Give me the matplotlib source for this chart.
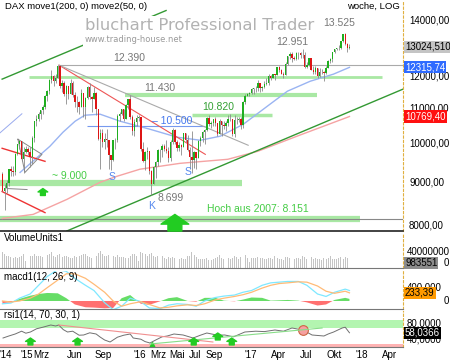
import numpy as np
import pandas as pd
import matplotlib
matplotlib.use('Agg')
import matplotlib.pyplot as plt
import matplotlib.dates as mdates
import matplotlib.transforms as mtrans
from matplotlib.ticker import NullLocator

plt.rcParams['font.family'] = ['Liberation Sans', 'DejaVu Sans']

#weekly DAX candles, one entry per week starting Mon 2014-10-06
first_open = 9195
close = [
    8788, 8850, 8988, 9326, 9291, 9252, 9732, 9980, 10087, 9594, 9787, 9865, 9764,
    9648, 10167, 10649, 10694, 10846, 10963, 11050, 11402, 11551, 11901, 12039, 11868, 11967,
    12375, 11689, 11811, 11454, 11709, 11447, 11815, 11413, 11197, 11197, 11041, 11492, 11058,
    11316, 11673, 11347, 11308, 11490, 10985, 10124, 10298, 10038, 10123, 10110, 9688, 9553,
    10096, 10104, 10795, 10850, 10988, 10708, 11119, 11293, 10752, 10340, 10608, 10728, 10743,
    9849, 9545, 9764, 9798, 9286, 8967, 9388, 9513, 9824, 9831, 9950, 9851, 9794,
    9622, 10051, 10373, 10039, 9870, 9952, 9916, 10287, 10103, 9834, 9631, 9557, 9776,
    9629, 10066, 10147, 10337, 10367, 10713, 10544, 10588, 10684, 10573, 10276, 10627, 10511,
    10490, 10580, 10711, 10696, 10259, 10668, 10664, 10700, 10513, 11203, 11404, 11450, 11481,
    11599, 11629, 11630, 11814, 11651, 11666, 11757, 11804, 12027, 11963, 12095, 12064, 12313,
    12225, 12109, 12049, 12438, 12717, 12770, 12638, 12602, 12823, 12816, 12753, 12733, 12325,
    12389, 12631, 12240, 12163, 12297, 12014, 12165, 12168, 12142, 12304, 12519, 12592, 12829,
    12956, 12992, 12991, 13217, 13479, 13127, 12994, 13024.51]
high = [
    9250, 8950, 9050, 9340, 9400, 9400, 9750, 10000, 10093, 10060, 9900, 9925, 9900,
    9900, 10200, 10650, 10810, 10900, 10970, 11100, 11420, 11570, 11920, 12220, 12050, 12080,
    12390, 12390, 11900, 11850, 11750, 11700, 11920, 11850, 11500, 11400, 11250, 11600, 11250,
    11350, 11700, 11800, 11400, 11670, 11500, 11000, 10400, 10400, 10300, 10400, 10100, 9700,
    10100, 10150, 10850, 10900, 11000, 10950, 11150, 11300, 11430, 10800, 10700, 10800, 10800,
    10500, 10050, 9800, 9900, 9800, 9300, 9400, 9550, 9850, 9850, 10000, 10000, 10100,
    9900, 10100, 10430, 10400, 10100, 10050, 10000, 10300, 10300, 10250, 9900, 10350, 9800,
    9750, 10100, 10200, 10350, 10400, 10750, 10800, 10650, 10700, 10750, 10500, 10700, 10600,
    10650, 10650, 10800, 10830, 10700, 10800, 10750, 10750, 10750, 11250, 11450, 11480, 11500,
    11650, 11650, 11700, 11890, 11800, 11700, 11850, 11950, 12100, 12050, 12100, 12100, 12320,
    12350, 12250, 12150, 12480, 12720, 12840, 12850, 12700, 12830, 12830, 12850, 12951, 12850,
    12500, 12650, 12650, 12350, 12350, 12300, 12300, 12250, 12200, 12350, 12550, 12630, 12830,
    12960, 13000, 13090, 13240, 13480, 13525, 13150, 13110]
low = [
    8780, 8355, 8750, 8900, 9150, 9150, 9180, 9700, 9850, 9550, 9219, 9740, 9700,
    9380, 9450, 10050, 10500, 10650, 10700, 10850, 11000, 11250, 11450, 11800, 11700, 11800,
    11950, 11650, 11500, 11380, 11150, 11300, 11450, 11350, 11050, 10900, 10850, 11100, 10750,
    10700, 11300, 11300, 10900, 11300, 10800, 10100, 9338, 9900, 9850, 9900, 9325, 9300,
    9550, 9850, 10050, 10650, 10800, 10650, 10700, 11000, 10700, 10250, 10200, 10500, 10650,
    9800, 9500, 9300, 9600, 9200, 8699, 9050, 9100, 9400, 9500, 9650, 9800, 9750,
    9500, 9550, 10000, 10000, 9800, 9800, 9700, 9900, 10050, 9800, 9330, 9226, 9350,
    9320, 9700, 9950, 10050, 10000, 10350, 10500, 10450, 10500, 10500, 10200, 10300, 10200,
    10400, 10350, 10500, 10650, 10200, 10174, 10550, 10600, 10400, 10450, 11150, 11400, 11400,
    11450, 11450, 11500, 11550, 11500, 11550, 11650, 11750, 11750, 11900, 11950, 11900, 12050,
    12150, 12100, 11950, 12350, 12400, 12600, 12500, 12550, 12550, 12600, 12650, 12650, 12300,
    12300, 12350, 12220, 12100, 12100, 11950, 12000, 12100, 11868, 12100, 12350, 12450, 12500,
    12800, 12900, 12900, 12950, 13200, 13100, 12850, 12950]
#weekly volume in millions
volume = [
    38, 34, 30, 28, 26, 24, 27, 25, 27, 30, 33, 16, 18,
    28, 30, 34, 30, 29, 28, 27, 30, 32, 33, 38, 29, 27,
    31, 33, 27, 28, 30, 27, 25, 24, 30, 27, 29, 32, 34,
    34, 30, 27, 25, 28, 30, 36, 42, 33, 30, 29, 32, 30,
    29, 27, 31, 26, 27, 26, 25, 24, 30, 33, 35, 28, 16,
    38, 36, 35, 30, 33, 36, 29, 27, 28, 27, 30, 24, 22,
    26, 25, 27, 24, 25, 22, 24, 21, 23, 28, 30, 40, 32,
    26, 22, 21, 23, 22, 24, 20, 19, 22, 24, 27, 31, 25,
    23, 22, 24, 21, 24, 30, 26, 23, 26, 30, 32, 25, 15,
    24, 25, 24, 26, 25, 24, 23, 22, 25, 24, 23, 29, 25,
    22, 21, 20, 26, 27, 25, 26, 22, 24, 25, 23, 30, 26,
    23, 22, 27, 23, 24, 22, 21, 20, 24, 22, 25, 28, 23,
    22, 21, 24, 26, 23, 26, 25, 0.983551]

#moving averages
ma50_dates = ['2014-12-03', '2015-01-21', '2015-03-11', '2015-04-23', '2015-06-02', '2015-07-04',
              '2015-08-23', '2015-10-28', '2016-02-03', '2016-05-03', '2016-07-18', '2016-09-21',
              '2016-12-06', '2017-02-23', '2017-04-30', '2017-07-14', '2017-09-28', '2017-11-20']
ma50 = [9245, 9580, 9929, 10317, 10632, 10808, 10838, 10632, 10402, 10177, 10094, 10206,
        10545, 11077, 11540, 11858, 12088, 12315.74]
ma200_dates = ['2014-10-06', '2015-01-15', '2015-05-06', '2015-08-23', '2015-10-18', '2016-01-01',
               '2016-05-12', '2016-10-16', '2017-01-23', '2017-06-10', '2017-11-20']
ma200 = [8155, 8245, 8590, 9000, 9150, 9327, 9478, 9583, 9796, 10237, 10769.40]

#drawn trend lines (dates, values)
green_channel = (['2014-10-05', '2016-03-27'], [11926, 14381])
green_support = (['2015-05-06', '2018-05-15'], [7881, 11605])
red_trend = (['2015-04-10', '2016-08-03'], [12390, 9713])
gray_trend = (['2015-04-10', '2016-12-22'], [12390, 9957])
red_wedge_top = (['2014-10-05', '2015-02-23'], [9875, 9530])
red_wedge_bot = (['2014-10-05', '2015-02-23'], [8775, 8285])
gray_triangle = (['2014-11-26', '2015-02-13', '2014-12-19'], [10122, 9713, 9245])
gray_flat = (['2014-10-21', '2014-12-26'], [8848, 8824])
blue_trend = (['2014-09-28', '2014-12-09'], [10300, 10850])

#horizontal levels: value, start, end
level_12390 = (12390, '2015-04-10', '2018-05-15')
level_12000 = (12000, '2015-01-01', '2018-03-08')
level_11430 = (11430, '2015-11-13', '2017-08-06')
level_10820 = (10820, '2016-06-20', '2017-03-11')
level_10500 = (10500, '2015-07-11', '2016-08-03')
level_9000 = (8975, '2014-09-28', '2016-12-02')
level_8151 = (8151, '2014-09-28', '2017-12-25')

#MACD panel
macd_dates = ['2014-10-06', '2014-11-03', '2014-12-01', '2015-01-05', '2015-02-02', '2015-03-02',
              '2015-04-06', '2015-05-04', '2015-06-01', '2015-07-06', '2015-08-03', '2015-09-07',
              '2015-10-05', '2015-11-02', '2015-11-30', '2016-01-04', '2016-02-01', '2016-03-07',
              '2016-04-04', '2016-05-02', '2016-06-06', '2016-07-04', '2016-08-01', '2016-09-05',
              '2016-10-03', '2016-11-07', '2016-12-05', '2017-01-02', '2017-02-06', '2017-03-06',
              '2017-04-03', '2017-05-01', '2017-06-05', '2017-07-03', '2017-08-07', '2017-09-04',
              '2017-10-02', '2017-11-06', '2017-11-20']
macd_line = [-80, -60, 80, 200, 450, 700, 900, 850, 650, 450, 300, -50, -250, -150, 80, -20,
             -200, -220, -120, -80, -100, -150, 0, 100, 140, 170, 250, 300, 450, 520, 540, 560,
             560, 450, 200, 130, 250, 340, 300]
macd_signal = [0, -30, 0, 80, 200, 380, 600, 780, 780, 650, 480, 250, 0, -150, -80, -20, -100,
               -200, -180, -140, -110, -130, -80, 30, 80, 130, 180, 250, 370, 450, 500, 520, 550,
               540, 430, 280, 220, 280, 233.39]
macd_hist = [-60, -40, 60, 150, 200, 230, 220, 80, -100, -180, -190, -210, -200, 80, 170, -80,
             -110, -10, 80, 110, 0, -20, 90, 90, 10, -10, 40, 100, 90, 10, 20, 30, 10, -40, -130,
             -100, 30, 90, 60]

#RSI panel
rsi_dates = ['2014-10-08', '2014-10-27', '2014-11-17', '2014-12-08', '2014-12-22', '2015-01-06',
             '2015-01-26', '2015-02-16', '2015-03-14', '2015-03-30', '2015-04-09', '2015-04-24',
             '2015-05-08', '2015-05-25', '2015-06-15', '2015-06-30', '2015-07-20', '2015-08-10',
             '2015-08-23', '2015-09-07', '2015-09-25', '2015-10-19', '2015-11-09', '2015-11-30',
             '2015-12-10', '2016-01-04', '2016-01-18', '2016-02-03', '2016-02-22', '2016-03-14',
             '2016-03-31', '2016-04-22', '2016-05-22', '2016-06-24', '2016-07-18', '2016-08-08',
             '2016-09-12', '2016-10-06', '2016-11-04', '2016-12-11', '2017-01-16', '2017-02-13',
             '2017-03-20', '2017-04-17', '2017-05-15', '2017-06-20', '2017-07-20', '2017-08-28',
             '2017-09-11', '2017-09-29', '2017-10-27', '2017-11-06', '2017-11-20']
rsi = [45, 50, 55, 62, 57, 60, 68, 72, 77.5, 75, 77.5, 66, 60, 62, 52, 52.5, 58, 55, 47.5, 40,
       35, 47, 52, 55, 45, 42, 36, 32.5, 40, 48, 50, 55, 52.5, 45, 52, 57.5, 52, 52.5, 48, 60,
       62, 61, 65, 62, 70, 65, 52.5, 50, 55, 60, 70, 72, 58.0366]
rsi_red_trend = (['2015-04-09', '2016-08-28'], [77.5, 35])
rsi_green_trend = (['2016-02-03', '2017-08-22'], [30, 70])
rsi_arrow_dates = ['2015-01-06', '2015-06-10', '2016-06-26', '2016-09-13', '2016-10-29']
rsi_arrow_vals = [45, 45, 45, 57.5, 45]

tick_dates = ['2014-10-18', '2014-12-25', '2015-02-12', '2015-06-01', '2015-09-01', '2016-01-01',
              '2016-03-01', '2016-05-01', '2016-07-01', '2016-09-01', '2017-01-01', '2017-04-01',
              '2017-07-01', '2017-10-01', '2018-01-01', '2018-04-01']
tick_labels = ["'14", "'15", 'Mrz', 'Jun', 'Sep', "'16", 'Mrz', 'Mai', 'Jul', 'Sep', "'17", 'Apr',
               'Jul', 'Okt', "'18", 'Apr']


def dn(d):
    return mdates.date2num(pd.to_datetime(d))


weeks = pd.date_range('2014-10-06', periods=len(close), freq='W-MON')
xw = mdates.date2num(weeks)
opens = [first_open] + close[:-1]

W, H = 450, 360
fig = plt.figure(figsize=(4.5, 3.6), dpi=100)
ax = fig.add_axes([0, 1 - 231 / H, 403 / W, 231 / H])
vax = fig.add_axes([0, 1 - 268 / H, 403 / W, 35 / H], sharex=ax)
mx = fig.add_axes([0, 1 - 309 / H, 403 / W, 38 / H], sharex=ax)
rx = fig.add_axes([0, 1 - 347 / H, 403 / W, 36 / H], sharex=ax)

for a in [ax, vax, mx, rx]:
    for s in ['top', 'left']:
        a.spines[s].set_visible(False)
    a.spines['right'].set_color('#e0b040')
    a.spines['right'].set_linestyle((0, (2, 2)))
    a.spines['bottom'].set_color('#777777')
    a.tick_params(axis='x', length=0, labelbottom=False)
    a.yaxis.set_major_locator(NullLocator())
    a.yaxis.set_minor_locator(NullLocator())
ax.spines['bottom'].set_color('#222222')
ax.spines['bottom'].set_linewidth(1.2)

#main price panel
ax.set_yscale('log')
ax.set_xlim(dn('2014-09-28'), dn('2018-05-15'))
ax.set_ylim(7880, 14800)
ax.yaxis.set_major_locator(NullLocator())
ax.yaxis.set_minor_locator(NullLocator())

band = '#a9e8a4'
def hline(a, lvl, color, lw, z=1):
    a.plot([dn(lvl[1]), dn(lvl[2])], [lvl[0], lvl[0]], color=color, lw=lw, zorder=z,
           solid_capstyle='butt')

hline(ax, level_8151, band, 4.5)
ax.axhline(level_8151[0], color='#888888', lw=0.8, zorder=1.5)
hline(ax, level_9000, band, 4.5)
hline(ax, level_12000, band, 2)
hline(ax, level_11430, band, 3)
hline(ax, level_10820, band, 2.5)
hline(ax, level_10500, '#7799ee', 0.8)
hline(ax, level_12390, '#aaaaaa', 0.8)

ax.plot([dn(d) for d in ma200_dates], ma200, color='#f5a3a3', lw=1, zorder=2)
ax.plot([dn(d) for d in ma50_dates], ma50, color='#9ab4f2', lw=1, zorder=2)

def tline(a, ln, color, lw=0.8, z=2.5):
    a.plot([dn(d) for d in ln[0]], ln[1], color=color, lw=lw, zorder=z)

tline(ax, green_channel, '#339933', 1)
tline(ax, green_support, '#339933', 1)
tline(ax, red_trend, '#ee5555')
tline(ax, gray_trend, '#aaaaaa')
tline(ax, red_wedge_top, '#ee3333', 1)
tline(ax, red_wedge_bot, '#ee3333', 1)
tline(ax, (gray_triangle[0] + gray_triangle[0][:1], gray_triangle[1] + gray_triangle[1][:1]), '#888888', 0.7)
tline(ax, gray_flat, '#888888', 0.7)
tline(ax, blue_trend, '#99aaee', 0.7)

#candles
for x, o, h, l, c in zip(xw, opens, high, low, close):
    col = '#1fae1f' if c >= o else '#dd1515'
    ax.vlines(x, min(l, o, c), max(h, o, c), color='#8a8a8a', lw=0.6, zorder=3)
    ax.bar(x, max(abs(c - o), 8), bottom=min(o, c), width=4.5, color=col, lw=0, zorder=4)

#watermark (white box hides the channel line)
ax.text(85 / 403, 1 - 26 / 231, 'bluchart Professional Trader', transform=ax.transAxes,
        family='DejaVu Sans', fontsize=11.8, color='#b2b2b2', va='center', zorder=5,
        bbox=dict(fc='white', ec='none', pad=1.5))
ax.text(85 / 403, 1 - 40 / 231, 'www.trading-house.net', transform=ax.transAxes,
        family='DejaVu Sans', fontsize=6, color='#9a9a9a', va='center', zorder=5,
        bbox=dict(fc='white', ec='none', pad=1.5))

ax.text(0.012, 0.99, 'DAX move1(200, 0) move2(50, 0)', transform=ax.transAxes, va='top',
        fontsize=6.8, zorder=6)
ax.text(0.993, 0.99, 'woche, LOG', transform=ax.transAxes, va='top', ha='right',
        fontsize=6.8, zorder=6)

gray_txt = '#777777'
ax.text(dn('2015-11-26'), 12640, '12.390', color=gray_txt, fontsize=7.5, ha='center', va='center', zorder=6)
ax.text(dn('2016-03-07'), 11630, '11.430', color=gray_txt, fontsize=7.5, ha='center', va='center', zorder=6)
ax.text(dn('2016-09-15'), 11040, '10.820', color='#33a033', fontsize=7.5, ha='center', va='center', zorder=6)
ax.text(dn('2016-04-16'), 10632, '– 10.500', color='#4477ee', fontsize=7.5, ha='center', va='center', zorder=6)
ax.text(dn('2017-05-16'), 13180, '12.951', color=gray_txt, fontsize=7.5, ha='center', va='center', zorder=6)
ax.text(dn('2017-10-18'), 13895, '13.525', color=gray_txt, fontsize=7.5, ha='center', va='center', zorder=6)
ax.text(dn('2015-05-13'), 9150, '~ 9.000', color='#44cc44', fontsize=7.5, ha='center', va='center', zorder=6)
ax.text(dn('2016-04-12'), 8630, '8.699', color=gray_txt, fontsize=7.5, ha='center', va='center', zorder=6)
ax.text(dn('2016-08-10'), 8374, 'Hoch aus 2007: 8.151', color='#44cc44', fontsize=7.5, ha='left', va='center', zorder=6)
ax.text(dn('2015-10-01'), 9125, 'S', color='#5588ee', fontsize=7.5, ha='center', va='center', zorder=6)
ax.text(dn('2016-06-07'), 9245, 'S', color='#5588ee', fontsize=7.5, ha='center', va='center', zorder=6)
ax.text(dn('2016-02-09'), 8443, 'K', color='#5588ee', fontsize=7.5, ha='center', va='center', zorder=6)

def up_arrow(a, d, tip, h, scale, color='#22cc22'):
    a.annotate('', xy=(dn(d), tip), xytext=(0, -h), textcoords='offset points', zorder=6,
               arrowprops=dict(arrowstyle='simple,head_length=0.35,head_width=1.0,tail_width=0.5',
                               color=color, shrinkA=0, shrinkB=0, mutation_scale=scale))

up_arrow(ax, '2016-04-25', 8245, 12, 20)
up_arrow(ax, '2015-02-16', 8848, 5, 7)

#price scale on the right
blend = mtrans.blended_transform_factory(ax.transAxes, ax.transData)
for v in [8000, 9000, 10000, 11000, 12000, 14000]:
    ax.text(1.015, v, '%d,00' % v, transform=blend, fontsize=7, va='center', ha='left')
ax.text(1.005, 13024.51, '13024,510', transform=blend, fontsize=7, va='center', ha='left',
        zorder=7, bbox=dict(fc='#c4c4c4', ec='none', pad=0.8))
ax.text(1.005, 12315.74, '12315,74', transform=blend, fontsize=7, va='center', ha='left',
        color='white', zorder=7, bbox=dict(fc='#2f6bff', ec='none', pad=0.8))
ax.text(1.005, 10769.40, '10769,40', transform=blend, fontsize=7, va='center', ha='left',
        color='white', zorder=7, bbox=dict(fc='#ff1010', ec='none', pad=0.8))

#volume panel
vax.bar(xw, np.array(volume) * 1e6, width=3, color='#c4c4c4', lw=0)
vax.set_ylim(0, 85e6)
vax.text(0.01, 0.86, 'VolumeUnits1', transform=vax.transAxes, fontsize=7, va='center')
vb = mtrans.blended_transform_factory(vax.transAxes, vax.transData)
vax.text(1.01, 40e6, '40000000', transform=vb, fontsize=7, va='center', ha='left')
vax.text(1.005, 0, '%d' % round(volume[-1] * 1e6), transform=vb, fontsize=7, va='bottom', ha='left',
         bbox=dict(fc='#8c8c8c', ec='none', pad=0.6))
vax.text(1.115, 0, '0', transform=vb, fontsize=7, va='bottom', ha='right')

#macd panel
md = [dn(d) for d in macd_dates]
hist = np.array(macd_hist)
mx.fill_between(md, 0, hist, where=hist >= 0, interpolate=True, color='#66dd66', lw=0)
mx.fill_between(md, 0, hist, where=hist <= 0, interpolate=True, color='#ff7070', lw=0)
mx.plot(md, macd_line, color='#7fe8ff', lw=0.9)
mx.plot(md, macd_signal, color='#ffbb77', lw=0.9)
mx.set_ylim(-230, 860)
mx.text(0.01, 0.84, 'macd1(12, 26, 9)', transform=mx.transAxes, fontsize=7, va='center')
mb = mtrans.blended_transform_factory(mx.transAxes, mx.transData)
mx.text(1.01, 400, '400,000', transform=mb, fontsize=7, va='center', ha='left')
mx.text(1.005, macd_signal[-1], '233,39', transform=mb, fontsize=7, va='center', ha='left',
        zorder=7, bbox=dict(fc='#ff9a00', ec='none', pad=0.6))
mx.text(1.115, 0, '0', transform=mb, fontsize=7, va='center', ha='right')

#rsi panel
rx.set_ylim(22.5, 112.5)
rx.axhspan(70, 90, color='#b3f5b0', lw=0)
rx.axhspan(20, 31, color='#ffb3b3', lw=0)
tline(rx, rsi_red_trend, '#f09090', 0.8)
tline(rx, rsi_green_trend, '#88dd88', 0.8)
rx.plot([dn(d) for d in rsi_dates], rsi, color='#707070', lw=0.7)
for d, v in zip(rsi_arrow_dates, rsi_arrow_vals):
    up_arrow(rx, d, v, 5, 7)
rx.plot(dn('2016-02-09'), 27.5, marker='^', color='#22cc22', ms=5)
rx.plot(dn('2017-06-20'), 65, marker='o', ms=7, mfc='#f5a0a0', mec='#cc6644', mew=0.8)
rx.text(0.01, 0.89, 'rsi1(14, 70, 30, 1)', transform=rx.transAxes, fontsize=7, va='center')
rb = mtrans.blended_transform_factory(rx.transAxes, rx.transData)
rx.text(1.01, 80, '80,0000', transform=rb, fontsize=7, va='center', ha='left')
rx.text(1.01, 40, '40,0000', transform=rb, fontsize=7, va='center', ha='left')
rx.text(1.005, rsi[-1], '58,0366', transform=rb, fontsize=7, va='center', ha='left', color='white',
        zorder=7, bbox=dict(fc='black', ec='none', pad=0.6))

rx.set_xticks([dn(d) for d in tick_dates])
rx.set_xticklabels(tick_labels)
rx.tick_params(axis='x', length=0, labelbottom=True, labelsize=7, pad=2)

fig.savefig('out.png', dpi=100, facecolor='white')
